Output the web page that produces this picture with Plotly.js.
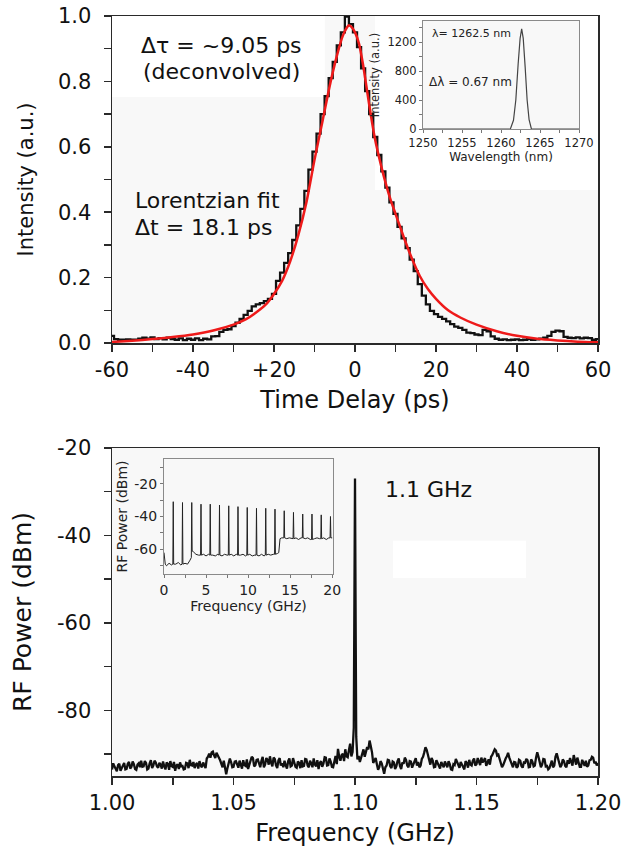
<!DOCTYPE html>
<html><head><meta charset="utf-8">
<script src="https://cdn.plot.ly/plotly-3.0.1.min.js"></script>
<style>html,body{margin:0;padding:0;background:#fff;} #chart{width:624px;height:847px;}</style>
</head><body><div id="chart"></div>
<script>
// ---------- DATA ----------
// Top panel: autocorrelation trace (1 ps grid from -60 ps)
const pulseTimeStart = -60, pulseTimeStep = 1;
const pulseIntensity = [
 0.022,0.012,0.010,0.010,0.011,0.010,0.010,0.013,0.016,0.013,
 0.017,0.012,0.015,0.011,0.016,0.012,0.010,0.014,0.009,0.013,
 0.010,0.014,0.009,0.013,0.011,0.020,0.021,0.034,0.040,0.042,
 0.052,0.062,0.074,0.086,0.098,0.112,0.118,0.122,0.128,0.135,
 0.150,0.190,0.215,0.245,0.275,0.315,0.360,0.410,0.465,0.530,
 0.585,0.640,0.700,0.755,0.810,0.860,0.910,0.950,0.998,0.975,
 0.950,0.905,0.840,0.770,0.700,0.630,0.575,0.525,0.475,0.430,
 0.395,0.355,0.320,0.290,0.255,0.220,0.180,0.145,0.118,0.098,
 0.088,0.080,0.074,0.066,0.058,0.050,0.046,0.040,0.032,0.030,
 0.026,0.024,0.040,0.036,0.020,0.013,0.010,0.011,0.009,0.010,
 0.011,0.009,0.010,0.012,0.010,0.011,0.013,0.016,0.022,0.034,
 0.038,0.036,0.019,0.016,0.015,0.017,0.014,0.016,0.015,0.010,
 0.012
];
// Lorentzian fit
const fitTime = [-60,-55,-50,-45,-40,-35,-30,-27,-25,-22,-20,-18,-16,-14,-12,-10,-8,-6,-4,-3,-2,-1.5,-1,0,1,2,3,4,5,6,7,8,9,10,11,12,14,16,18,20,23,26,30,35,40,45,50,55,60];
const fitIntensity = [0.003,0.007,0.012,0.018,0.026,0.038,0.056,0.072,0.088,0.118,0.150,0.19,0.25,0.33,0.43,0.56,0.68,0.80,0.90,0.94,0.965,0.972,0.968,0.95,0.915,0.85,0.77,0.69,0.62,0.565,0.515,0.47,0.43,0.395,0.36,0.325,0.26,0.205,0.165,0.135,0.10,0.078,0.056,0.036,0.022,0.013,0.008,0.004,0.002];
const timeTicks = [-60,-40,-20,0,20,40,60];
const timeTickLabels = ['-60','-40','+20','0','20','40','60'];
const intensityTicks = [0,0.2,0.4,0.6,0.8,1.0];
const intensityTickLabels = ['0.0','0.2','0.4','0.6','0.8','1.0'];

// Top inset: optical spectrum
const wavelength = [1250,1261.2,1261.6,1261.9,1262.2,1262.45,1262.65,1262.85,1263.1,1263.35,1263.6,1263.9,1270];
const spectrum   = [0,0,120,400,900,1250,1380,1250,850,400,130,0,0];
const wlTicks = [1250,1255,1260,1265,1270];
const specTicks = [0,400,800,1200];

// Bottom panel: RF spectrum (1 MHz grid from 1.000 GHz, plus mid-grid samples)
const rfFreqStart = 1.0, rfFreqStep = 0.001;
const rfPower = [
 -93.5,-92.8,-93.9,-92.2,-93.1,-92.0,-93.4,-91.8,-92.9,-92.3,
 -93.6,-92.1,-91.5,-92.8,-92.0,-93.3,-91.4,-92.6,-91.9,-93.1,
 -92.4,-91.7,-93.5,-92.2,-91.6,-92.9,-93.8,-92.3,-91.9,-92.7,
 -93.4,-92.1,-91.3,-92.6,-93.2,-92.0,-91.6,-93.0,-92.4,-91.0,
 -89.9,-89.6,-90.3,-89.7,-90.6,-92.2,-91.5,-94.6,-92.3,-91.8,
 -92.9,-91.6,-93.1,-92.2,-91.4,-92.7,-93.4,-91.9,-90.9,-92.5,
 -91.2,-93.0,-90.6,-92.4,-91.3,-90.5,-92.8,-91.1,-93.2,-90.9,
 -92.1,-91.5,-93.3,-91.0,-92.6,-91.8,-93.1,-92.0,-91.4,-92.7,
 -91.2,-93.0,-92.1,-91.0,-92.8,-93.4,-91.6,-92.2,-90.8,-92.5,
 -91.7,-93.0,-90.4,-88.8,-91.5,-89.9,-88.9,-90.7,-87.6,-89.5,
 -27.0,
 -91.2,-91.8,-89.3,-90.6,-88.4,-86.9,-89.6,-91.4,-92.3,
 -93.0,-92.1,-94.5,-92.6,-91.4,-93.2,-91.9,-92.8,-91.0,-93.4,
 -92.2,-91.3,-93.0,-91.7,-92.5,-90.9,-91.8,-92.6,-90.6,-88.4,
 -90.2,-92.4,-91.5,-92.9,-92.0,-93.3,-92.4,-91.7,-93.0,-92.3,
 -93.6,-92.5,-91.9,-93.1,-92.4,-93.5,-92.0,-91.3,-92.6,-91.0,
 -92.3,-91.6,-90.8,-91.5,-92.7,-91.2,-90.6,-89.4,-89.2,-90.1,
 -91.8,-92.5,-91.0,-89.7,-91.6,-93.0,-91.9,-92.8,-91.5,-93.1,
 -92.0,-91.4,-92.9,-91.7,-92.6,-89.6,-91.8,-92.4,-91.2,-92.7,
 -93.2,-91.5,-92.6,-89.8,-91.9,-92.5,-91.6,-93.0,-92.2,-91.8,
 -90.2,-92.4,-91.6,-92.9,-92.0,-91.5,-92.6,-91.3,-90.8,-91.7,
 -92.0
];
// samples half-way between the grid points above (1.0005, 1.0015, ...)
const rfPowerMid = [
 -92.1,-93.6,-92.5,-93.8,-92.4,-93.5,-92.2,-93.3,-91.7,-93.4,
 -92.4,-93.0,-92.9,-91.6,-93.5,-92.1,-93.2,-91.5,-92.8,-92.0,
 -93.3,-92.8,-91.9,-93.6,-92.7,-91.8,-92.6,-93.4,-92.8,-93.5,
 -92.0,-93.2,-92.5,-91.8,-92.4,-93.3,-92.6,-91.9,-93.2,-90.6,
 -90.8,-89.4,-90.9,-90.2,-91.4,-93.0,-93.1,-93.2,-91.0,-93.0,
 -91.7,-92.6,-91.5,-93.3,-92.5,-91.2,-92.3,-90.6,-92.8,-91.3,
 -92.5,-91.5,-93.0,-90.9,-92.4,-92.0,-90.8,-92.6,-91.4,-92.6,
 -93.0,-92.6,-91.6,-92.8,-90.9,-92.9,-91.7,-93.2,-92.8,-91.1,
 -92.6,-91.5,-93.0,-92.4,-91.4,-92.0,-92.9,-90.7,-92.6,-91.0,
 -92.9,-91.2,-92.3,-90.6,-90.2,-91.6,-90.5,-89.1,-90.5,-84.0,
 -86.0,-90.4,-90.8,-88.9,-89.7,-88.9,-88.2,-92.0,-90.9,-93.6,
 -91.6,-93.7,-93.0,-91.3,-92.8,-91.7,-93.4,-91.6,-92.7,-91.9,
 -90.8,-92.6,-91.6,-93.1,-91.5,-92.6,-93.0,-91.1,-89.6,-89.0,
 -91.8,-90.9,-93.0,-91.4,-92.9,-91.8,-93.0,-92.6,-91.6,-93.5,
 -92.3,-91.1,-92.8,-91.8,-93.3,-91.6,-93.1,-92.4,-91.5,-92.6,
 -90.9,-92.5,-91.9,-90.9,-91.6,-92.4,-90.2,-88.9,-90.3,-91.2,
 -93.0,-91.4,-90.5,-90.8,-92.5,-91.8,-93.1,-91.3,-92.7,-91.9,
 -91.1,-93.0,-91.2,-92.8,-90.8,-90.6,-93.0,-91.1,-92.8,-93.5,
 -92.0,-93.0,-90.6,-90.9,-93.0,-91.2,-92.7,-91.4,-90.9,-92.6,
 -91.1,-90.8,-92.9,-91.3,-92.7,-92.9,-91.4,-90.6,-92.1,-92.6
];
const rfSpikeFreq  = [1.0997, 1.1003];
const rfSpikePower = [-60, -64];
const rfFreqTicks = [1.00,1.05,1.10,1.15,1.20];
const rfFreqTickLabels = ['1.00','1.05','1.10','1.15','1.20'];
const rfPowerTicks = [-80,-60,-40,-20];
const rfPowerTickLabels = ['-80','-60','-40','-20'];

// Bottom inset: wideband RF spectrum
const wideFreq = [
 0,0.15,0.3,0.6,0.9,
 1.05,1.1,1.15, 1.4,1.7,2.0,
 2.15,2.2,2.25, 2.5,2.8,3.05,
 3.25,3.3,3.35, 3.5,3.8,4.1,
 4.35,4.4,4.45, 4.7,5.0,5.3,
 5.45,5.5,5.55, 5.8,6.1,6.4,
 6.55,6.6,6.65, 6.9,7.2,7.5,
 7.65,7.7,7.75, 8.0,8.3,8.6,
 8.75,8.8,8.85, 9.1,9.4,9.7,
 9.85,9.9,9.95, 10.2,10.5,10.8,
 10.95,11.0,11.05, 11.3,11.6,11.9,
 12.05,12.1,12.15, 12.4,12.7,13.0,
 13.15,13.2,13.25, 13.5,13.65,13.8,14.0,
 14.25,14.3,14.35, 14.6,14.9,15.2,
 15.35,15.4,15.45, 15.7,16.0,16.3,
 16.45,16.5,16.55, 16.8,17.1,17.4,
 17.55,17.6,17.65, 17.9,18.2,18.5,
 18.65,18.7,18.75, 19.0,19.3,19.6,
 19.75,19.8,19.85, 20.0
];
const widePower = [
 -62,-69,-70,-68.5,-69.5,
 -69,-31,-69, -69,-68,-69.5,
 -69,-31.5,-69, -68.5,-69,-67,
 -65,-31.5,-61, -61.5,-63,-63.5,
 -63.5,-32.5,-63.5, -63,-64,-63,
 -63.5,-32.5,-63.5, -63.5,-64,-63,
 -63.5,-33,-63.5, -64,-63,-63.5,
 -63.5,-33.5,-63.5, -63,-64,-63,
 -63.5,-34,-63.5, -63.5,-63,-64,
 -63.5,-34.5,-63.5, -63,-64,-63.5,
 -63.5,-35,-63.5, -64,-63,-64,
 -63.5,-35,-63.5, -63,-63.5,-63,
 -63,-35.5,-63, -62.5,-62,-53.5,-53,
 -53,-36.5,-53, -53.5,-53,-53.5,
 -53.5,-37.5,-53.5, -53,-54,-53,
 -53,-38.5,-53, -53.5,-53,-54,
 -54,-38.5,-54, -53.5,-53,-53.5,
 -53.5,-39,-53.5, -53,-54,-53,
 -53,-40,-53, -53
];
const wideFreqTicks = [0,5,10,15,20];
const widePowerTicks = [-60,-40,-20];
const widePowerTickLabels = ['-60','-40','-20'];

// ---------- BUILD ----------
const FONT = 'DejaVu Sans, Verdana, sans-serif';
const W = 624, H = 847;
const fx = p => p / W, fy = p => 1 - p / H;

const pulseTime = pulseIntensity.map((_, i) => pulseTimeStart + i * pulseTimeStep);
let rfPts = rfPower.map((p, i) => [+(rfFreqStart + i * rfFreqStep).toFixed(4), p]);
rfPowerMid.forEach((p, i) => rfPts.push([+(rfFreqStart + (i + 0.5) * rfFreqStep).toFixed(4), p]));
rfSpikeFreq.forEach((f, i) => rfPts.push([f, rfSpikePower[i]]));
rfPts.sort((a, b) => a[0] - b[0]);

const traces = [
  {x: pulseTime, y: pulseIntensity, xaxis:'x', yaxis:'y', type:'scatter', mode:'lines',
   line:{color:'#111', width:2.3, shape:'hvh'}, name:'Autocorrelation'},
  {x: fitTime, y: fitIntensity, xaxis:'x', yaxis:'y', type:'scatter', mode:'lines',
   line:{color:'#ee1a1a', width:2.5, shape:'spline', smoothing:0.6}, name:'Lorentzian fit'},
  {x: wavelength, y: spectrum, xaxis:'x3', yaxis:'y3', type:'scatter', mode:'lines',
   line:{color:'#444', width:1.2}, name:'Spectrum'},
  {x: rfPts.map(p => p[0]), y: rfPts.map(p => p[1]), xaxis:'x2', yaxis:'y2', type:'scatter', mode:'lines',
   line:{color:'#111', width:2.3}, name:'RF'},
  {x: wideFreq, y: widePower, xaxis:'x4', yaxis:'y4', type:'scatter', mode:'lines',
   line:{color:'#222', width:1}, name:'RF wide'}
];

const mainAx = {
  showline:true, linecolor:'#2a2a2a', linewidth:1.5, mirror:true,
  ticks:'outside', ticklen:7, tickwidth:1.5, tickcolor:'#2a2a2a',
  showgrid:false, zeroline:false, automargin:false, fixedrange:true,
  tickfont:{size:21, family:FONT, color:'#111'}, tickmode:'array'
};
const insetAx = {
  showline:true, linecolor:'#8a8a8a', linewidth:1, mirror:true,
  ticks:'outside', ticklen:3, tickwidth:1, tickcolor:'#777',
  showgrid:false, zeroline:false, automargin:false, fixedrange:true,
  tickmode:'array'
};
const minorMain = (t0, d) => ({tickmode:'linear', tick0:t0, dtick:d, ticks:'outside', ticklen:7, tickwidth:1.5, tickcolor:'#2a2a2a', showgrid:false});
const minorInset = (t0, d) => ({tickmode:'linear', tick0:t0, dtick:d, ticks:'outside', ticklen:3, tickwidth:1, tickcolor:'#777', showgrid:false});

const layout = {
  width:W, height:H, margin:{l:0, r:0, t:0, b:0},
  paper_bgcolor:'#ffffff', plot_bgcolor:'#f8f8f8', showlegend:false,
  font:{family:FONT, color:'#111'},
  xaxis: Object.assign({}, mainAx, {
    domain:[fx(112), fx(598)], anchor:'y', range:[-60,60],
    tickvals:timeTicks, ticktext:timeTickLabels, minor:minorMain(-60,10),
    title:{text:'Time Delay (ps)', font:{size:24, family:FONT, color:'#111'}, standoff:10}
  }),
  yaxis: Object.assign({}, mainAx, {
    domain:[fy(343), fy(16)], anchor:'x', range:[0,1],
    tickvals:intensityTicks, ticktext:intensityTickLabels, minor:minorMain(0,0.1),
    ticklabelstandoff:8,
    title:{text:'Intensity (a.u.)', font:{size:21, family:FONT, color:'#111'}, standoff:18}
  }),
  xaxis2: Object.assign({}, mainAx, {
    domain:[fx(112), fx(598)], anchor:'y2', range:[1.0,1.2],
    tickvals:rfFreqTicks, ticktext:rfFreqTickLabels, minor:minorMain(1.0,0.025),
    title:{text:'Frequency (GHz)', font:{size:24, family:FONT, color:'#111'}, standoff:10}
  }),
  yaxis2: Object.assign({}, mainAx, {
    domain:[fy(776), fy(448)], anchor:'x2', range:[-95,-20],
    tickvals:rfPowerTicks, ticktext:rfPowerTickLabels, minor:minorMain(-20,10),
    ticklabelstandoff:8,
    title:{text:'RF Power (dBm)', font:{size:25, family:FONT, color:'#111'}, standoff:18}
  }),
  xaxis3: Object.assign({}, insetAx, {
    domain:[fx(423), fx(579)], anchor:'y3', range:[1250,1270],
    tickvals:wlTicks, minor:minorInset(1250,2.5),
    tickfont:{size:11.5, family:FONT, color:'#222'},
    title:{text:'Wavelength (nm)', font:{size:12, family:FONT, color:'#222'}, standoff:2}
  }),
  yaxis3: Object.assign({}, insetAx, {
    domain:[fy(129), fy(21)], anchor:'x3', range:[0,1490],
    tickvals:specTicks, minor:minorInset(0,200),
    tickfont:{size:11.5, family:FONT, color:'#222'},
    title:{text:'Intensity (a.u.)', font:{size:11.5, family:FONT, color:'#222'}, standoff:5}
  }),
  xaxis4: Object.assign({}, insetAx, {
    domain:[fx(164), fx(333)], anchor:'y4', range:[0,20.1],
    tickvals:wideFreqTicks, minor:minorInset(0,2.5),
    tickfont:{size:14, family:FONT, color:'#222'},
    title:{text:'Frequency (GHz)', font:{size:14, family:FONT, color:'#222'}, standoff:2}
  }),
  yaxis4: Object.assign({}, insetAx, {
    domain:[fy(574), fy(459)], anchor:'x4', range:[-75,-5],
    tickvals:widePowerTicks, ticktext:widePowerTickLabels, minor:minorInset(-20,10),
    tickfont:{size:14, family:FONT, color:'#222'},
    title:{text:'RF Power (dBm)', font:{size:14, family:FONT, color:'#222'}, standoff:3}
  }),
  shapes: [
    // white patches in the (scanned) plot backgrounds
    {type:'rect', xref:'x domain', yref:'y domain', x0:0, x1:0.438, y0:0.752, y1:1, fillcolor:'#ffffff', line:{width:0}, layer:'below'},
    {type:'rect', xref:'x domain', yref:'y domain', x0:0.541, x1:1, y0:0.468, y1:1, fillcolor:'#ffffff', line:{width:0}, layer:'below'},
    {type:'rect', xref:'x3 domain', yref:'y3 domain', x0:0.077, x1:0.526, y0:0.38, y1:0.713, fillcolor:'#ffffff', line:{width:0}, layer:'below'},
    {type:'rect', xref:'x2 domain', yref:'y2 domain', x0:0.578, x1:0.852, y0:0.604, y1:0.717, fillcolor:'#ffffff', line:{width:0}, layer:'below'}
  ],
  annotations: [
    {xref:'paper', yref:'paper', x:fx(221), y:fy(45), text:'Δτ = ~9.05 ps', showarrow:false, xanchor:'center', yanchor:'middle', font:{size:22, family:FONT, color:'#111'}},
    {xref:'paper', yref:'paper', x:fx(221), y:fy(71), text:'(deconvolved)', showarrow:false, xanchor:'center', yanchor:'middle', font:{size:22, family:FONT, color:'#111'}},
    {xref:'paper', yref:'paper', x:fx(133), y:fy(200), text:'Lorentzian fit', showarrow:false, xanchor:'left', yanchor:'middle', font:{size:22, family:FONT, color:'#111'}},
    {xref:'paper', yref:'paper', x:fx(133), y:fy(228), text:'Δt = 18.1 ps', showarrow:false, xanchor:'left', yanchor:'middle', font:{size:22, family:FONT, color:'#111'}},
    {xref:'paper', yref:'paper', x:fx(430), y:fy(34), text:'λ= 1262.5 nm', showarrow:false, xanchor:'left', yanchor:'middle', font:{size:11, family:FONT, color:'#222'}},
    {xref:'paper', yref:'paper', x:fx(427), y:fy(82), text:'Δλ = 0.67 nm', showarrow:false, xanchor:'left', yanchor:'middle', font:{size:12, family:FONT, color:'#222'}},
    {xref:'paper', yref:'paper', x:fx(383), y:fy(490), text:'1.1 GHz', showarrow:false, xanchor:'left', yanchor:'middle', font:{size:22, family:FONT, color:'#111'}}
  ]
};

Plotly.newPlot('chart', traces, layout, {staticPlot:true, displayModeBar:false});
</script></body></html>
